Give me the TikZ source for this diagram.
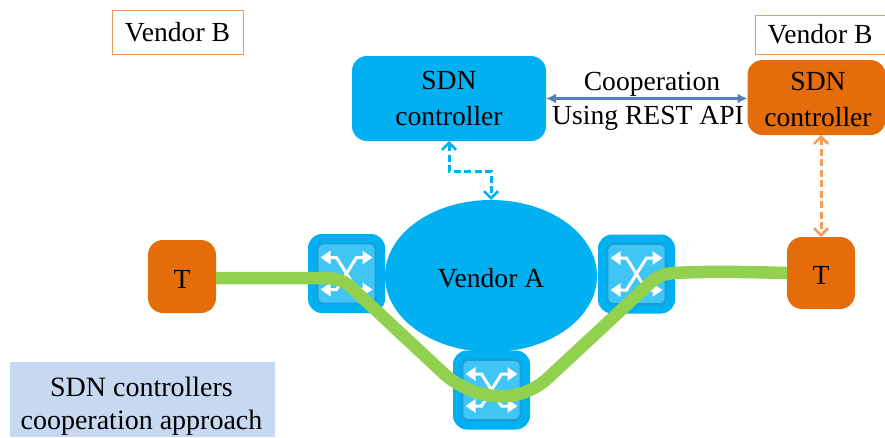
\documentclass[tikz,border=0pt]{standalone}
\usepackage{fontspec}
\setmainfont{Liberation Serif}
\usetikzlibrary{arrows.meta,calc,shapes.geometric}
\definecolor{vblue}{HTML}{00B0F0}
\definecolor{vorange}{HTML}{E46C0A}
\definecolor{vgreen}{HTML}{92D050}
\definecolor{swface}{HTML}{40C6F5}
\definecolor{swedge}{HTML}{1E9AD8}
\definecolor{linkblue}{HTML}{4F81BD}
\definecolor{dashorange}{HTML}{F79C55}
\definecolor{notefill}{HTML}{C6D9F1}
\definecolor{tagedge}{HTML}{F0975A}
\tikzset{
  lbl/.style={font=\fontsize{27.6}{36}\selectfont,align=center,inner sep=0pt},
  boxsized/.style 2 args={minimum width=#1,minimum height=#2,inner sep=0pt,outer sep=0pt},
  ctrlblue/.style={fill=vblue,rounded corners=15pt,lbl},
  ctrlorange/.style={fill=vorange,rounded corners=15pt,lbl},
  tagbox/.style={draw=tagedge,line width=0.9pt,fill=white,lbl},
  swouter/.style={fill=vblue,rounded corners=14pt,boxsized={77pt}{79pt}},
  swinner/.style={fill=swface,draw=swedge,line width=1.8pt,rounded corners=5pt,boxsized={58pt}{60pt}},
  swarrow/.style={draw=white,line width=3pt,{Triangle[width=13pt,length=10pt]}-{Triangle[width=13pt,length=10pt]}},
  dashlink/.style={line width=3pt,dash pattern=on 7pt off 3.5pt,{Straight Barb[length=7pt,width=14pt,line width=2.6pt]}-{Straight Barb[length=7pt,width=14pt,line width=2.6pt]}},
  greenpath/.style={draw=vgreen,line width=12.5pt},
  capsdown/.style={text height=23pt},
}
\newcommand{\swicon}[3]{%
  \node[swouter] (#1) at (#2,#3) {};
  \node[swinner] (#1in) at (#2,#3) {};
  \draw[swarrow] ($(#1in)+(-26,-16)$) -- ++(16,0) -- ($(#1in)+(10,16)$) -- ($(#1in)+(26,16)$);
  \draw[swarrow] ($(#1in)+(-26,16)$) -- ++(16,0) -- ($(#1in)+(10,-16)$) -- ($(#1in)+(26,-16)$);
}
\begin{document}
\begin{tikzpicture}[x=1pt,y=-1pt]
\useasboundingbox (0,0) rectangle (885,437);

\node[tagbox,boxsized={131pt}{44pt}] (tagL) at (177.5,32) {Vendor B};
\node[tagbox,boxsized={130pt}{39pt}] (tagR) at (820,34.5) {Vendor B};

\node[ctrlblue,boxsized={194pt}{85pt}] (ctrlA) at (449,98.5) {SDN\\controller};
\node[ctrlorange,boxsized={138pt}{75pt}] (ctrlB) at (816.5,97.5) {};
\node[lbl] (ctrlBText) at (818,99.5) {SDN\\controller};

\node[ctrlorange,capsdown,boxsized={68pt}{73pt}] (tL) at (182,276.5) {T};
\node[ctrlorange,capsdown,boxsized={68pt}{72pt}] (tR) at (821,273) {T};

\swicon{swL}{346.5}{273.5}
\swicon{swR}{636.5}{274}
\swicon{swB}{491.5}{390}

\node[ellipse,fill=vblue,lbl,capsdown,minimum width=212pt,minimum height=152pt,outer sep=0pt] (cloud) at (491,276) {Vendor A};

\coordinate (g1) at (318,278);
\coordinate (g2) at (352,288);
\coordinate (g3) at (440,370);
\coordinate (g4) at (548,378);
\coordinate (g5) at (648,285);
\coordinate (g6) at (674,273);
\draw[greenpath] (tL.east |- g1) -- (g1) .. controls (335,278) and (342,279) .. (g2)
  -- (g3) .. controls (468,398) and (515,408) .. (g4)
  -- (g5) .. controls (656,277) and (662,274) .. (g6)
  .. controls (710,271) and (750,272) .. (tR.west);

\draw[linkblue,line width=3pt,{Latex[length=10pt,width=10pt]}-{Latex[length=10pt,width=10pt]}] (ctrlA.east) -- (ctrlB.west |- ctrlA.east);
\node[lbl] (coop) at (652,84) {Cooperation};
\node[lbl] (rest) at (648,118.5) {Using REST API};

\coordinate (bendA) at (449,171);
\coordinate (bendB) at (491,171);
\draw[vblue,dashlink] (ctrlA.south) -- (bendA) -- (bendB) -- (cloud.north);
\draw[dashorange,dashlink] (ctrlB.south -| tR.north) -- (tR.north);

\node[fill=notefill,boxsized={265pt}{75pt}] (note) at (142.5,399.5) {};
\node[lbl,font=\fontsize{28}{33}\selectfont] (noteText) at (141.5,406) {SDN controllers\\cooperation approach};
\end{tikzpicture}
\end{document}
